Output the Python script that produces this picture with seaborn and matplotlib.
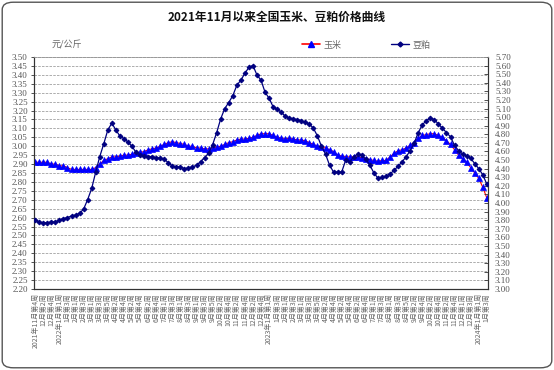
import matplotlib
matplotlib.use("Agg")
import matplotlib.pyplot as plt
from matplotlib.lines import Line2D
from matplotlib.patches import FancyBboxPatch
import seaborn as sns
import pandas as pd
import numpy as np

# ---- data ----
corn = [2.91, 2.91, 2.91, 2.91, 2.90, 2.90, 2.89, 2.89, 2.88, 2.87,
        2.87, 2.87, 2.87, 2.87, 2.87, 2.88, 2.90, 2.92, 2.93, 2.94,
        2.94, 2.945, 2.95, 2.95, 2.955, 2.96, 2.965, 2.97, 2.98, 2.985,
        2.99, 3.00, 3.01, 3.02, 3.025, 3.02, 3.015, 3.01, 3.00, 3.00,
        2.99, 2.99, 2.985, 2.985, 2.99, 2.995, 3.00, 3.01, 3.02, 3.025,
        3.035, 3.04, 3.04, 3.045, 3.05, 3.06, 3.07, 3.07, 3.07, 3.06,
        3.05, 3.045, 3.04, 3.045, 3.04, 3.035, 3.035, 3.03, 3.02, 3.01,
        3.00, 2.995, 2.99, 2.98, 2.97, 2.95, 2.945, 2.94, 2.94, 2.94,
        2.94, 2.935, 2.93, 2.925, 2.92, 2.915, 2.92, 2.92, 2.94, 2.96,
        2.975, 2.98, 2.99, 3.005, 3.02, 3.045, 3.06, 3.065, 3.07, 3.07,
        3.06, 3.05, 3.03, 3.01, 2.98, 2.95, 2.93, 2.91, 2.88, 2.85,
        2.82, 2.77, 2.71]

soymeal = [3.80, 3.78, 3.77, 3.77, 3.78, 3.78, 3.80, 3.82, 3.83, 3.85,
           3.86, 3.88, 3.93, 4.04, 4.17, 4.36, 4.54, 4.69, 4.85, 4.93,
           4.85, 4.78, 4.75, 4.71, 4.66, 4.59, 4.56, 4.55, 4.54, 4.54,
           4.53, 4.52, 4.51, 4.47, 4.43, 4.42, 4.42, 4.40, 4.41, 4.42,
           4.44, 4.48, 4.53, 4.58, 4.68, 4.82, 4.98, 5.10, 5.17, 5.25,
           5.37, 5.43, 5.51, 5.58, 5.60, 5.49, 5.43, 5.29, 5.22, 5.12,
           5.09, 5.06, 5.01, 4.99, 4.98, 4.97, 4.96, 4.94, 4.92, 4.87,
           4.78, 4.66, 4.57, 4.44, 4.36, 4.36, 4.36, 4.50, 4.48, 4.54,
           4.57, 4.56, 4.51, 4.44, 4.35, 4.29, 4.30, 4.31, 4.34, 4.38,
           4.43, 4.48, 4.54, 4.61, 4.70, 4.82, 4.91, 4.96, 4.99, 4.97,
           4.92, 4.87, 4.82, 4.77, 4.67, 4.61, 4.57, 4.55, 4.52, 4.46,
           4.40, 4.33, 4.22]

tick_labels = [
    "2021年11月第4周", "12月第2周", "12月第4周", "2022年1月第1周", "1月第3周",
    "2月第1周", "2月第3周", "3月第1周", "3月第3周", "3月第5周",
    "4月第2周", "4月第4周", "5月第2周", "5月第4周", "6月第2周",
    "6月第4周", "7月第1周", "7月第3周", "8月第1周", "8月第3周",
    "9月第1周", "9月第3周", "9月第5周", "10月第2周", "10月第4周",
    "11月第2周", "11月第4周", "12月第2周", "12月第4周",
    "2023年1月第1周", "1月第3周", "2月第1周", "2月第3周", "3月第1周",
    "3月第3周", "3月第5周", "4月第2周", "4月第4周", "5月第2周",
    "5月第4周", "6月第2周", "6月第4周", "7月第1周", "7月第3周",
    "8月第1周", "8月第3周", "8月第5周", "9月第2周", "9月第4周",
    "10月第2周", "10月第4周", "11月第2周", "11月第4周", "12月第1周",
    "12月第3周", "2024年1月第1周", "1月第3周"]

left_ticks = [round(2.20 + 0.05 * k, 2) for k in range(27)]
right_ticks = [round(3.00 + 0.10 * k, 2) for k in range(28)]

title = "2021年11月以来全国玉米、豆粕价格曲线"
unit = "元/公斤"
names = ["玉米", "豆粕"]

# ---- plot ----
sns.set_style("white")
plt.rcParams['font.family'] = ['Noto Sans CJK SC', 'DejaVu Sans']

df = pd.DataFrame({"week": range(len(corn)), "corn": corn, "soy": soymeal})

fig = plt.figure(figsize=(5.54, 3.70), dpi=100)
fig.patch.set_facecolor("white")
ax = fig.add_axes([0.0614, 0.219, 0.8195, 0.627])
ax2 = ax.twinx()

corn_color_line = "#FF0000"
corn_color_mark = "#0000FF"
soy_color = "#000080"

sns.lineplot(data=df, x="week", y="corn", ax=ax, color=corn_color_line,
             linewidth=0.8, marker="^", markersize=4.8,
             markerfacecolor=corn_color_mark, markeredgecolor=corn_color_mark,
             markeredgewidth=0.5, zorder=3)
sns.lineplot(data=df, x="week", y="soy", ax=ax2, color=soy_color,
             linewidth=0.9, marker="D", markersize=2.4,
             markerfacecolor=soy_color, markeredgecolor=soy_color, zorder=3)

for a in (ax, ax2):
    a.set_xlabel("")
    a.set_ylabel("")

n = len(corn)
ax.set_xlim(-0.3, n - 1 + 0.3)
ax.set_ylim(2.20, 3.50)
ax2.set_ylim(3.00, 5.70)

ax.set_yticks(left_ticks)
ax.set_yticklabels([f"{v:.2f}" for v in left_ticks], family=['Liberation Serif'],
                   fontsize=6.5, color="#555555")
ax2.set_yticks(right_ticks)
ax2.set_yticklabels([f"{v:.2f}" for v in right_ticks], family=['Liberation Serif'],
                    fontsize=6.5, color="#555555")

ax.set_xticks(list(range(0, n, 2)))
ax.set_xticklabels(tick_labels, rotation=90, fontsize=5.0, color="#666666",
                   va="top", ha="center")

ax.tick_params(axis="x", direction="in", length=3, width=0.6, pad=3, colors="#333333",
               labelcolor="#666666")
ax.tick_params(axis="y", direction="out", length=2.5, width=0.6, pad=2, colors="#333333",
               labelcolor="#555555")
ax2.tick_params(axis="y", direction="in", length=3, width=0.6, pad=5, colors="#333333",
                labelcolor="#555555")

ax.yaxis.grid(True, linestyle=(0, (3, 1.5)), color="#a0a0a0", linewidth=0.6)
ax.xaxis.grid(False)
ax.set_axisbelow(True)

for a in (ax, ax2):
    for s in ("left", "bottom", "right"):
        a.spines[s].set_color("#333333")
        a.spines[s].set_linewidth(0.8)
    a.spines["top"].set_linestyle((0, (3, 1.5)))
    a.spines["top"].set_color("#9a9a9a")
    a.spines["top"].set_linewidth(0.6)

# title, unit, legend
fig.text(0.5, 0.953, title, ha="center", va="center", fontsize=8.5,
         fontweight="bold", color="#111111")
fig.text(0.093, 0.878, unit, ha="left", va="center", fontsize=6.5,
         color="#666666", family=['Noto Sans CJK SC'])

handles = [
    Line2D([], [], color=corn_color_line, linewidth=1.2, marker="^", markersize=4.5,
           markerfacecolor=corn_color_mark, markeredgecolor=corn_color_mark),
    Line2D([], [], color=soy_color, linewidth=1.0, marker="D", markersize=2.5,
           markerfacecolor=soy_color, markeredgecolor=soy_color),
]
fig.legend(handles, names, loc="center left", bbox_to_anchor=(0.53, 0.878),
           ncol=2, frameon=False, fontsize=6.5, handlelength=2.0,
           columnspacing=5.5, handletextpad=0.4, labelcolor="#666666")

# rounded border
border = FancyBboxPatch((0.004, 0.006), 0.992, 0.988,
                        boxstyle="round,pad=0,rounding_size=0.02",
                        transform=fig.transFigure, fill=False,
                        edgecolor="#555555", linewidth=1.0)
fig.patches.append(border)

fig.savefig("out.png", dpi=100, facecolor="white")
